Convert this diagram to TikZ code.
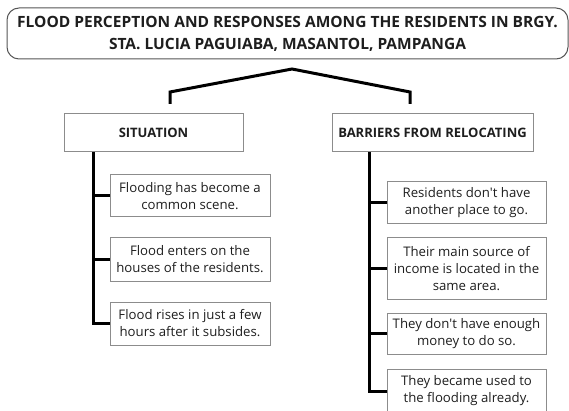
\documentclass[tikz,border=0pt]{standalone}
\usepackage{fontspec}
\setmainfont{Open Sans}
\usepackage{tikz}
\usetikzlibrary{positioning}
\definecolor{boxline}{HTML}{8C8C8C}
\definecolor{titleline}{HTML}{555555}
\definecolor{ink}{HTML}{1E1E1E}

\begin{document}
\begin{tikzpicture}[x=1pt,y=-1pt,
		title/.style = {draw=titleline,line width=1pt,rounded corners=12pt,minimum width=561pt,minimum height=51pt,inner sep=0pt,align=center,text=ink,font=\bfseries\fontsize{15.5}{22}\selectfont},
		head/.style = {draw=boxline,line width=1pt,minimum height=38pt,inner sep=0pt,text=ink,font=\bfseries\fontsize{13}{15}\selectfont},
		item/.style = {draw=boxline,line width=1pt,minimum width=160pt,inner sep=0pt,align=center,text=ink,font=\fontsize{13.2}{17}\selectfont},
		trunk/.style = {line width=3pt}
		]
		\useasboundingbox (0,0) rectangle (569,411);
		%TITLE
		\node[title] (title) at (287.5,33.5) {FLOOD PERCEPTION AND RESPONSES AMONG THE RESIDENTS IN BRGY.\\STA. LUCIA PAGUIABA, MASANTOL, PAMPANGA};
		%HEADERS
		\node[head,minimum width=179pt] (sit) at (153.5,133) {SITUATION};
		\node[head,minimum width=201pt] (bar) at (432.5,133) {BARRIERS FROM RELOCATING};
		%BRACKET
		\coordinate (apex) at (292,69);
		\coordinate (lfoot) at (170,104);
		\coordinate (rfoot) at (410,104);
		\draw[trunk] (lfoot) -- (170,92) -- (apex) -- (410,92) -- (rfoot);
		%SITUATION
		\node[item,minimum height=42pt] (s1) at (190,196) {Flooding has become a\\common scene.};
		\node[item,minimum height=43pt] (s2) at (190,259.5) {Flood enters on the\\houses of the residents.};
		\node[item,minimum height=43pt] (s3) at (190,323.5) {Flood rises in just a few\\hours after it subsides.};
		%BARRIERS
		\node[item,minimum width=159pt,minimum height=42pt] (b1) at (466.5,203) {Residents don\textquotesingle t have\\another place to go.};
		\node[item,minimum width=159pt,minimum height=61pt] (b2) at (466.5,268.5) {Their main source of\\income is located in the\\same area.};
		\node[item,minimum width=159pt,minimum height=41pt] (b3) at (466.5,333.5) {They don\textquotesingle t have enough\\money to do so.};
		\node[item,minimum width=159pt,minimum height=44pt] (b4) at (466.5,391) {They became used to\\the flooding already.};
		%TRUNKS
		\coordinate (st) at (93,152);
		\coordinate (bt) at (369.5,152);
		\draw[trunk] (st) |- (s3.west);
		\foreach \i in {1,2} \draw[trunk] (st |- s\i.west) -- (s\i.west);
		\draw[trunk] (bt) |- (b4.west);
		\foreach \i in {1,2,3} \draw[trunk] (bt |- b\i.west) -- (b\i.west);
\end{tikzpicture}
\end{document}
